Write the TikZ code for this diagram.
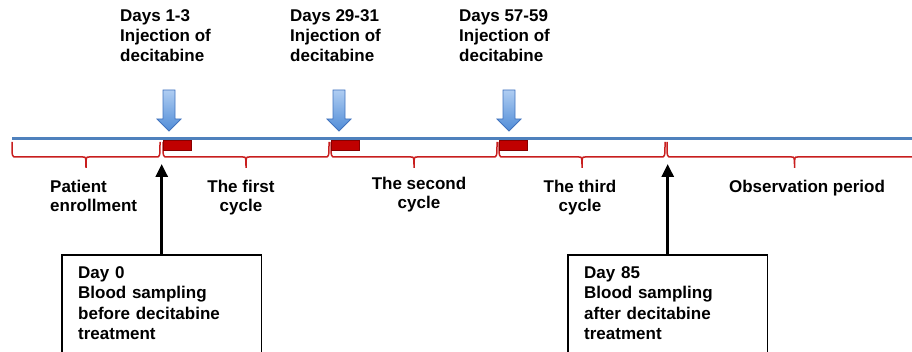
\documentclass[tikz,border=0pt]{standalone}
\usepackage{fontspec}
\setmainfont{Liberation Sans}
\usetikzlibrary{arrows.meta,calc}
\definecolor{lineblue}{RGB}{79,129,189}
\definecolor{arrowblue}{RGB}{65,115,190}
\definecolor{arrowlight}{RGB}{175,205,242}
\definecolor{arrowdark}{RGB}{80,140,215}
\definecolor{bracered}{RGB}{200,30,30}
\definecolor{barred}{RGB}{192,0,0}
\tikzset{
    daytext/.style = {anchor=north west, inner sep=0, align=left,
        font=\fontsize{17}{20}\selectfont\bfseries},
    phasetext/.style = {anchor=north, inner sep=0, align=center,
        font=\fontsize{17}{19}\selectfont\bfseries},
    samplebox/.style = {anchor=north west, inner xsep=16pt, inner ysep=11pt,
        text width=167pt, align=left,
        font=\fontsize{17}{20.5}\selectfont\bfseries},
    frame/.style = {draw, line width=1.2pt},
    samplearrow/.style = {line width=2.8pt, -{Triangle[width=12pt,length=13pt]}},
    timeline/.style = {draw=lineblue, line width=3pt},
    brace/.style = {draw=bracered, line width=1.5pt},
    dosebar/.style = {fill=barred, draw=barred!70!black, line width=0.6pt},
    injarrow/.style = {draw=arrowblue, line width=0.8pt, top color=arrowlight, bottom color=arrowdark}
}

\begin{document}
\begin{tikzpicture}[x=1pt, y=-1pt]
    \useasboundingbox (0,0) rectangle (912,352);
    \clip (0,0) rectangle (912,352);

    % brackets under the time line
    \foreach \a/\b in {12/160, 163/329, 331/497, 499/665, 667/922} {
        \pgfmathsetmacro\m{(\a+\b)/2}
        \draw[brace] (\a,142) .. controls (\a,157) .. (\a+4,157) -- (\m-3,157)
            .. controls (\m,157) .. (\m,168) .. controls (\m,157) .. (\m+3,157)
            -- (\b-4,157) .. controls (\b,157) .. (\b,142);
    }
    \draw[timeline] (12,139) -- (912,139);
    \foreach \x in {163,331,499}
        \draw[dosebar] (\x,140) rectangle ++(28,10);
    \foreach \c in {169,339,509}
        \path[injarrow] (\c-6,90) -- (\c+6,90) -- (\c+6,119) -- (\c+12,119)
            -- (\c,131) -- (\c-12,119) -- (\c-6,119) -- cycle;

    \node[daytext] (inj1) at (120,9) {Days 1-3\\Injection of\\decitabine};
    \node[daytext] (inj2) at (290,9) {Days 29-31\\Injection of\\decitabine};
    \node[daytext] (inj3) at (459,9) {Days 57-59\\Injection of\\decitabine};

    \node[phasetext, anchor=north west, align=left] (enroll) at (50,180) {Patient\\enrollment};
    \node[phasetext] (cyc1) at (241,180) {The first\\cycle};
    \node[phasetext] (cyc2) at (419,177) {The second\\cycle};
    \node[phasetext] (cyc3) at (580,180) {The third\\cycle};
    \node[phasetext] (obs) at (807,180) {Observation period};

    \node[samplebox] (day0) at (62,255) {Day 0\\Blood sampling\\before decitabine\\treatment};
    \node[samplebox] (day85) at (568,255) {Day 85\\Blood sampling\\after decitabine\\treatment};
    \draw[frame] (day0.north west |- 0,360) -- (day0.north west) -- (day0.north east) -- (day0.north east |- 0,360);
    \draw[frame] (day85.north west |- 0,360) -- (day85.north west) -- (day85.north east) -- (day85.north east |- 0,360);

    \coordinate (start) at (161,164);
    \coordinate (finish) at (666,164);
    \draw[samplearrow] (day0.north) -- (day0.north |- start);
    \draw[samplearrow] (day85.north) -- (day85.north |- finish);
\end{tikzpicture}
\end{document}
